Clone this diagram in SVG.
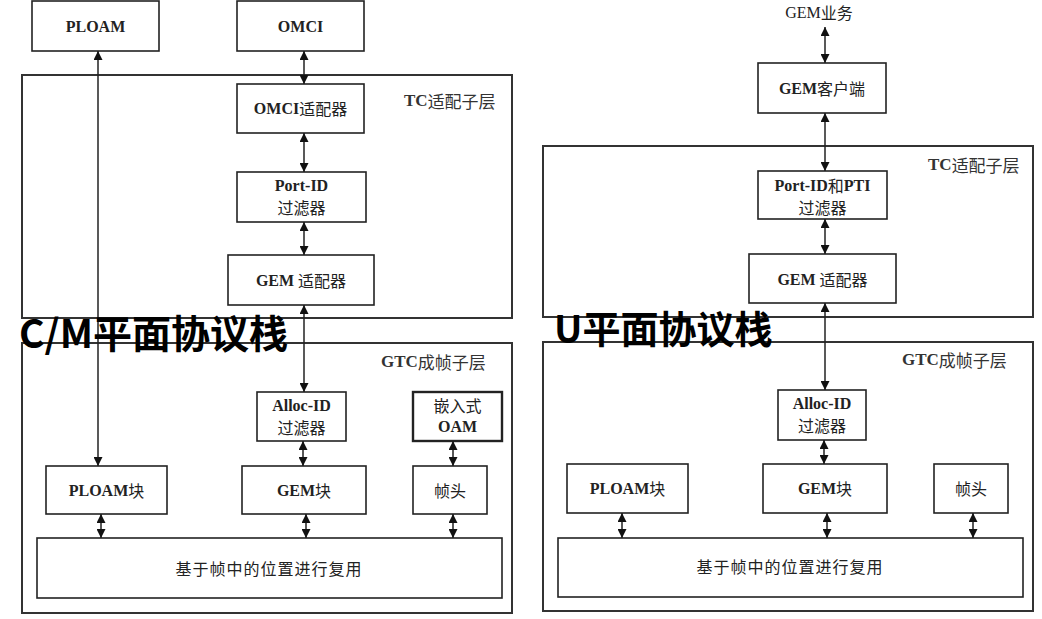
<svg xmlns="http://www.w3.org/2000/svg" width="1042" height="619" viewBox="0 0 1042 619">
<style>
.box{fill:#fff;stroke:#222;stroke-width:1.6}
.outer{fill:none;stroke:#333;stroke-width:2}
.thick{fill:#fff;stroke:#222;stroke-width:2.4}
.t{font-family:"Liberation Serif","Noto Sans CJK SC",serif;font-size:16px;fill:#222;text-anchor:middle;dominant-baseline:central}
.l{font-family:"Liberation Serif","Noto Sans CJK SC",serif;font-size:17px;fill:#333;dominant-baseline:central}
.b{font-weight:bold}
.c{font-family:"Noto Sans CJK SC",sans-serif;font-weight:normal}
.mux{letter-spacing:1px}
.title{font-family:"Noto Sans CJK SC","Noto Sans",sans-serif;font-weight:bold;font-size:38px;fill:#000}
.cn{stroke:#222;stroke-width:1.5;fill:none;marker-start:url(#ah);marker-end:url(#ah)}
</style>
<defs>
<marker id="ah" viewBox="0 0 10 10" refX="10" refY="5" markerWidth="9" markerHeight="9" markerUnits="userSpaceOnUse" orient="auto-start-reverse">
<path d="M0,0 L10,5 L0,10 z" fill="#111"/>
</marker>
</defs>
<rect width="1042" height="619" fill="#fff"/>

<!-- Left: C/M plane -->
<g id="left-tc-layer">
<rect class="outer" x="22" y="75" width="490" height="243"/>
<text class="l" x="404" y="100"><tspan class="b">TC</tspan><tspan class="c">适配子层</tspan></text>
</g>
<g id="left-gtc-layer">
<rect class="outer" x="22" y="343" width="490" height="270"/>
<text class="l" x="381" y="361"><tspan class="b">GTC</tspan><tspan class="c">成帧子层</tspan></text>
</g>
<g id="l-ploam"><rect class="box" x="32" y="1" width="127" height="50"/><text class="t b" x="95.5" y="26">PLOAM</text></g>
<g id="l-omci"><rect class="box" x="237" y="1" width="127" height="50"/><text class="t b" x="300.5" y="26">OMCI</text></g>
<g id="l-omci-adapter"><rect class="box" x="237" y="84" width="127" height="49"/><text class="t" x="300.5" y="108"><tspan class="b">OMCI</tspan><tspan class="c">适配器</tspan></text></g>
<g id="l-portid"><rect class="box" x="237" y="172" width="129" height="50"/><text class="t b" x="301.5" y="185">Port-ID</text><text class="t c" x="301.5" y="207">过滤器</text></g>
<g id="l-gem-adapter"><rect class="box" x="228" y="255" width="146" height="50"/><text class="t" x="301" y="280"><tspan class="b">GEM </tspan><tspan class="c">适配器</tspan></text></g>
<g id="l-allocid"><rect class="box" x="257" y="392" width="89" height="49"/><text class="t b" x="301.5" y="405">Alloc-ID</text><text class="t c" x="301.5" y="427">过滤器</text></g>
<g id="l-oam"><rect class="thick" x="413" y="392" width="89" height="49"/><text class="t c" x="457.5" y="405">嵌入式</text><text class="t b" x="457.5" y="426">OAM</text></g>
<g id="l-ploam-block"><rect class="box" x="46" y="466" width="121" height="48"/><text class="t" x="106.5" y="490"><tspan class="b">PLOAM</tspan><tspan class="c">块</tspan></text></g>
<g id="l-gem-block"><rect class="box" x="242" y="466" width="124" height="48"/><text class="t" x="304" y="490"><tspan class="b">GEM</tspan><tspan class="c">块</tspan></text></g>
<g id="l-header"><rect class="box" x="413" y="466" width="74" height="48"/><text class="t c" x="450" y="490">帧头</text></g>
<g id="l-mux"><rect class="box" x="37" y="538" width="465" height="60"/><text class="t c mux" x="269" y="568">基于帧中的位置进行复用</text></g>

<!-- Right: U plane -->
<g id="right-tc-layer">
<rect class="outer" x="543" y="146" width="490" height="171"/>
<text class="l" x="928" y="164"><tspan class="b">TC</tspan><tspan class="c">适配子层</tspan></text>
</g>
<g id="right-gtc-layer">
<rect class="outer" x="543" y="342" width="490" height="269"/>
<text class="l" x="902" y="359"><tspan class="b">GTC</tspan><tspan class="c">成帧子层</tspan></text>
</g>
<g id="r-gem-service"><text class="t" x="819" y="12"><tspan>GEM</tspan><tspan class="c">业务</tspan></text></g>
<g id="r-gem-client"><rect class="box" x="758" y="63" width="128" height="50"/><text class="t" x="822" y="88"><tspan class="b">GEM</tspan><tspan class="c">客户端</tspan></text></g>
<g id="r-portid-pti"><rect class="box" x="758" y="171" width="129" height="48"/><text class="t b" x="822.5" y="185">Port-ID<tspan class="c">和</tspan>PTI</text><text class="t c" x="822.5" y="207">过滤器</text></g>
<g id="r-gem-adapter"><rect class="box" x="749" y="254" width="147" height="49"/><text class="t" x="822.5" y="279"><tspan class="b">GEM </tspan><tspan class="c">适配器</tspan></text></g>
<g id="r-allocid"><rect class="box" x="778" y="390" width="88" height="50"/><text class="t b" x="822" y="403">Alloc-ID</text><text class="t c" x="822" y="425">过滤器</text></g>
<g id="r-ploam-block"><rect class="box" x="567" y="464" width="121" height="49"/><text class="t" x="627.5" y="488"><tspan class="b">PLOAM</tspan><tspan class="c">块</tspan></text></g>
<g id="r-gem-block"><rect class="box" x="763" y="464" width="124" height="49"/><text class="t" x="825" y="488"><tspan class="b">GEM</tspan><tspan class="c">块</tspan></text></g>
<g id="r-header"><rect class="box" x="934" y="464" width="74" height="49"/><text class="t c" x="971" y="488">帧头</text></g>
<g id="r-mux"><rect class="box" x="558" y="538" width="465" height="59"/><text class="t c mux" x="790" y="566">基于帧中的位置进行复用</text></g>

<g id="connectors">
<line class="cn" x1="98" y1="51" x2="98" y2="466"/>
<line class="cn" x1="304" y1="51" x2="304" y2="84"/>
<line class="cn" x1="304" y1="133" x2="304" y2="172"/>
<line class="cn" x1="304" y1="222" x2="304" y2="255"/>
<line class="cn" x1="304" y1="305" x2="304" y2="392"/>
<line class="cn" x1="303" y1="441" x2="303" y2="466"/>
<line class="cn" x1="453" y1="441" x2="453" y2="466"/>
<line class="cn" x1="101" y1="514" x2="101" y2="538"/>
<line class="cn" x1="306" y1="514" x2="306" y2="538"/>
<line class="cn" x1="453" y1="514" x2="453" y2="538"/>
<line class="cn" x1="825" y1="27" x2="825" y2="63"/>
<line class="cn" x1="825" y1="113" x2="825" y2="171"/>
<line class="cn" x1="825" y1="219" x2="825" y2="254"/>
<line class="cn" x1="825" y1="303" x2="825" y2="390"/>
<line class="cn" x1="824" y1="440" x2="824" y2="464"/>
<line class="cn" x1="622" y1="513" x2="622" y2="538"/>
<line class="cn" x1="827" y1="513" x2="827" y2="538"/>
<line class="cn" x1="973" y1="513" x2="973" y2="538"/>
</g>

<g id="titles">
<text class="title" x="19" y="348" style="font-size:39px">C/M平面协议栈</text>
<text class="title" x="554" y="343">U平面协议栈</text>
</g>
</svg>
